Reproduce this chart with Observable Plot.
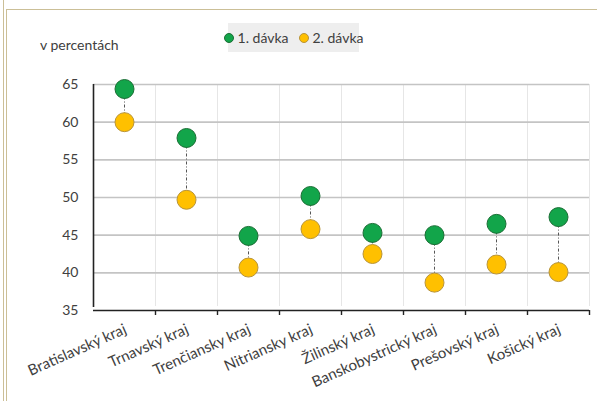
<!DOCTYPE html>
<html><head><meta charset="utf-8">
<script src="https://cdn.jsdelivr.net/npm/d3@7"></script>
<script src="https://cdn.jsdelivr.net/npm/@observablehq/plot@0.6"></script>
<style>
body{margin:0;background:#fff;font-family:Lato,"Noto Sans",sans-serif;}
#wrap{position:relative;width:597px;height:401px;overflow:hidden;}
#frameTop{position:absolute;left:6px;top:9px;right:0;height:0;border-top:1px solid #cbbf97;}
#frameL1{position:absolute;left:3px;top:0;bottom:0;border-left:1px solid #cbbf97;}
#frameL2{position:absolute;left:6px;top:9px;bottom:0;border-left:1px solid #cbbf97;}
#unit{position:absolute;left:40px;top:36px;font-size:14px;color:#404040;}
#legend{position:absolute;left:228px;top:23px;width:131px;height:29px;background:#eeeeee;display:flex;align-items:center;justify-content:center;gap:10px;font-size:14px;color:#404040;white-space:nowrap;}
#legend span.sw{display:inline-block;width:8px;height:8px;border-radius:50%;margin-right:4px;vertical-align:middle;position:relative;top:-1px;}
svg{position:absolute;left:0;top:0;}
</style></head>
<body><div id="wrap">
<div id="frameL1"></div><div id="frameTop"></div><div id="frameL2"></div>
<div id="chart"></div>
<div id="unit">v percentách</div>
<div id="legend"></div>
</div>
<script>
const regions = ["Bratislavský kraj","Trnavský kraj","Trenčiansky kraj","Nitriansky kraj","Žilinský kraj","Banskobystrický kraj","Prešovský kraj","Košický kraj"];
const dose1 = [64.4, 57.9, 44.9, 50.2, 45.3, 45.0, 46.5, 47.4];
const dose2 = [60.0, 49.7, 40.7, 45.8, 42.5, 38.7, 41.1, 40.1];
const seriesNames = ["1. dávka","2. dávka"];
const seriesFill = ["#12a54a","#ffc000"];
const seriesStroke = ["#1b6e35","#b8943a"];
const yTicks = [35,40,45,50,55,60,65];

const data = regions.map((r,i)=>({region:r, d1:dose1[i], d2:dose2[i]}));
const W = 597, H = 401, mL = 93, mR = 8, mT = 84, mB = 91;
const bw = (W - mL - mR) / regions.length;

const chart = Plot.plot({
  width: W, height: H,
  marginLeft: mL, marginRight: mR, marginTop: mT, marginBottom: mB,
  style: {fontFamily: "Lato, 'Noto Sans', sans-serif", background: "transparent", overflow: "visible"},
  x: {type: "band", domain: regions, padding: 0, label: null},
  y: {domain: [35, 65], label: null},
  marks: [
    Plot.ruleX(regions, {x: d => d, dx: bw/2, stroke: "#e6e6e6", strokeWidth: 1, y1: 35, y2: 65, insetTop: -4}),
    Plot.ruleY(yTicks.filter(t => t > 35), {y: d => d, stroke: "#c4c4c4", strokeWidth: 1.6}),
    Plot.ruleX(data, {x: "region", y1: "d1", y2: "d2", stroke: "#555", strokeWidth: 1, strokeDasharray: "3,2,1,2"}),
    Plot.ruleY([35], {stroke: "#222", strokeWidth: 1.6}),
    Plot.ruleX([regions[0]], {x: d => d, dx: -bw/2, stroke: "#222", strokeWidth: 1.6, y1: 35, y2: 65, insetTop: -3}),
    Plot.ruleX(regions, {x: d => d, dx: bw/2, stroke: "#222", strokeWidth: 1.4, y1: 35, y2: 35, insetBottom: -5}),
    Plot.dot(data, {x: "region", y: "d2", r: 9.5, fill: seriesFill[1], stroke: seriesStroke[1], strokeWidth: 1}),
    Plot.dot(data, {x: "region", y: "d1", r: 9.5, fill: seriesFill[0], stroke: seriesStroke[0], strokeWidth: 1}),
    Plot.axisY(yTicks, {tickSize: 0, tickPadding: 15, fontSize: 14, fill: "#404040", label: null}),
    Plot.axisX({tickSize: 0, tickRotate: -24, tickPadding: 18, dx: 1, fontSize: 15, fill: "#404040", label: null})
  ]
});
document.getElementById("chart").appendChild(chart);

const lg = document.getElementById("legend");
seriesNames.forEach((n,i)=>{
  const s = document.createElement("span");
  s.innerHTML = `<span class="sw" style="background:${seriesFill[i]};border:1px solid ${seriesStroke[i]}"></span>${n}`;
  lg.appendChild(s);
});
</script>
</body></html>
